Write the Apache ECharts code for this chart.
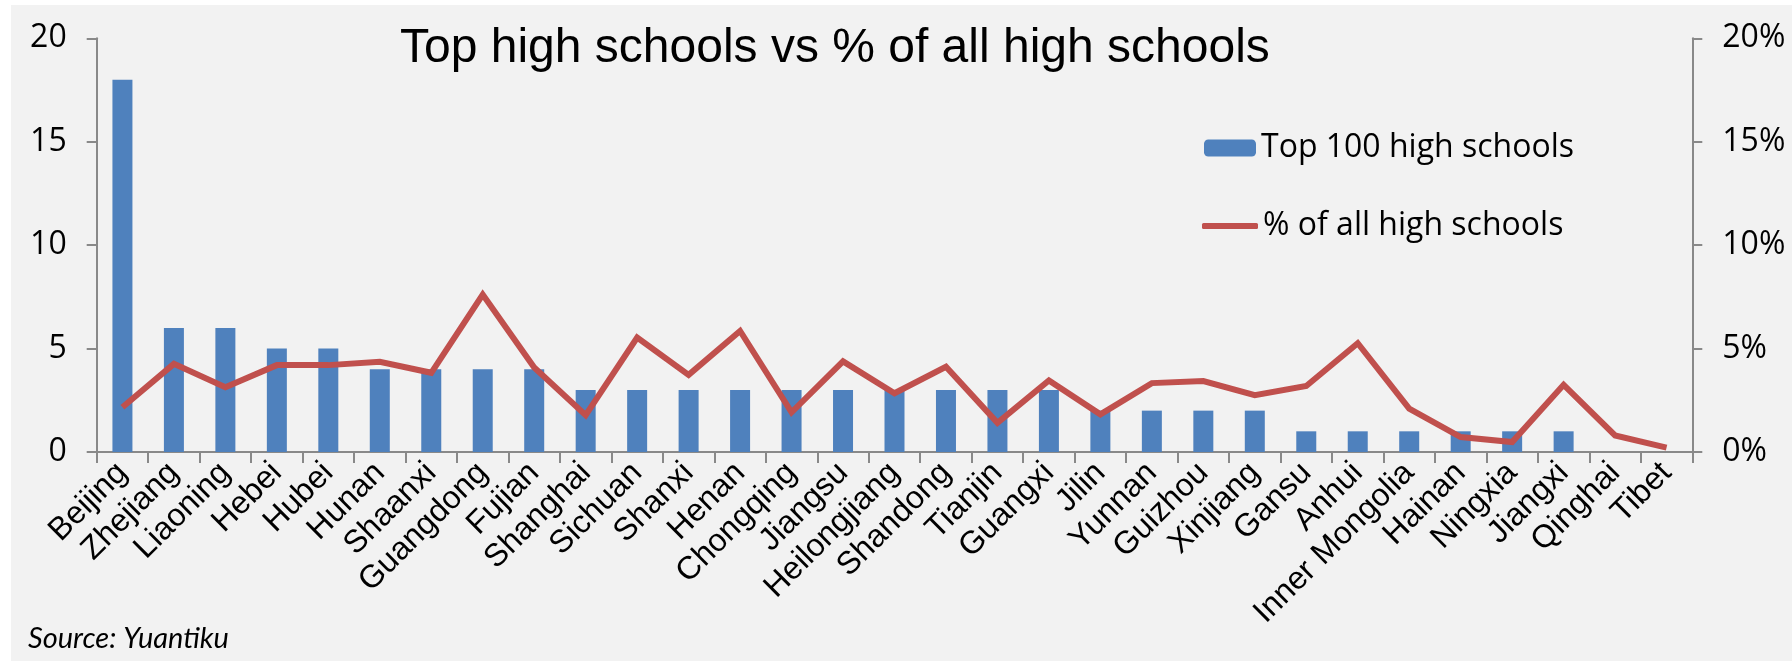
<!DOCTYPE html>
<html>
<head>
<meta charset="utf-8">
<script src="https://cdn.jsdelivr.net/npm/echarts@6/dist/echarts.min.js"></script>
<style>
  html, body { margin: 0; padding: 0; background: #ffffff; }
  #bg { position: absolute; left: 11px; top: 5px; width: 1781px; height: 656px; background: #f2f2f2; }
  #chart { position: absolute; left: 0; top: 0; width: 1792px; height: 661px; }
</style>
</head>
<body>
<div id="bg"></div>
<div id="chart"></div>
<script>
const categories = ['Beijing','Zhejiang','Liaoning','Hebei','Hubei','Hunan','Shaanxi','Guangdong','Fujian','Shanghai','Sichuan','Shanxi','Henan','Chongqing','Jiangsu','Heilongjiang','Shandong','Tianjin','Guangxi','Jilin','Yunnan','Guizhou','Xinjiang','Gansu','Anhui','Inner Mongolia','Hainan','Ningxia','Jiangxi','Qinghai','Tibet'];
const top100 = [18,6,6,5,5,4,4,4,4,3,3,3,3,3,3,3,3,3,3,2,2,2,2,1,1,1,1,1,1,0,0];
const pctAll = [2.16,4.26,3.13,4.2,4.2,4.36,3.83,7.61,4.09,1.78,5.53,3.73,5.85,1.92,4.38,2.84,4.12,1.41,3.46,1.82,3.33,3.43,2.75,3.19,5.26,2.1,0.72,0.48,3.25,0.8,0.21];
const leftTicks = { min: 0, max: 20, interval: 5 };
const rightTicks = { min: 0, max: 20, interval: 5 };
const titleText = 'Top high schools vs % of all high schools';
const sourceText = 'Source: Yuantiku';
const seriesNames = ['Top 100 high schools', '% of all high schools'];

const axisGray = '#898989';
const chart = echarts.init(document.getElementById('chart'), null, { renderer: 'canvas' });
const yAxisCommon = {
  type: 'value',
  splitLine: { show: false },
  axisLine: { show: true, lineStyle: { color: axisGray, width: 2 } },
  axisTick: { show: true, length: 10, lineStyle: { color: axisGray, width: 2 } },
  axisLabel: { fontFamily: 'Open Sans', fontSize: 32, color: '#000', margin: 30 }
};
chart.setOption({
  animation: false,
  backgroundColor: 'transparent',
  graphic: [
    { type: 'text', left: 400, top: 25, style: { text: titleText, fontFamily: 'Liberation Sans', fontSize: 48, fill: '#000' } },
    { type: 'text', left: 28, top: 624, style: { text: sourceText, fontFamily: 'Lato', fontStyle: 'italic', fontSize: 29, fill: '#000' } }
  ],
  legend: [
    { data: [seriesNames[0]], left: 1204, top: 132, padding: 0, itemWidth: 52, itemHeight: 17,
      textStyle: { fontFamily: 'Open Sans', fontSize: 32, color: '#000' } },
    { data: [{ name: seriesNames[1], icon: 'roundRect' }], left: 1202, top: 210, padding: 0, itemWidth: 56, itemHeight: 6,
      textStyle: { fontFamily: 'Open Sans', fontSize: 32, color: '#000' } }
  ],
  grid: { left: 96.7, right: 99.7, top: 38.3, bottom: 209, containLabel: false },
  xAxis: {
    type: 'category',
    data: categories,
    boundaryGap: true,
    axisLine: { show: true, lineStyle: { color: axisGray, width: 2 } },
    axisTick: { show: true, interval: 0, length: 11, alignWithLabel: false, lineStyle: { color: axisGray, width: 2 } },
    axisLabel: { interval: 0, rotate: 45, fontFamily: 'Liberation Sans', fontSize: 32, color: '#000', margin: 16 }
  },
  yAxis: [
    Object.assign({}, yAxisCommon, { position: 'left', min: leftTicks.min, max: leftTicks.max, interval: leftTicks.interval }),
    Object.assign({}, yAxisCommon, { position: 'right', min: rightTicks.min, max: rightTicks.max, interval: rightTicks.interval,
      axisLabel: Object.assign({}, yAxisCommon.axisLabel, { formatter: '{value}%' }) })
  ],
  series: [
    { name: seriesNames[0], type: 'bar', data: top100, barWidth: 20, itemStyle: { color: '#4f81bd' }, z: 2 },
    { name: seriesNames[1], type: 'line', yAxisIndex: 1, data: pctAll, symbol: 'none', showSymbol: false,
      itemStyle: { color: '#c0504d' }, lineStyle: { color: '#c0504d', width: 6, join: 'miter' }, z: 3 }
  ]
});
</script>
</body>
</html>
